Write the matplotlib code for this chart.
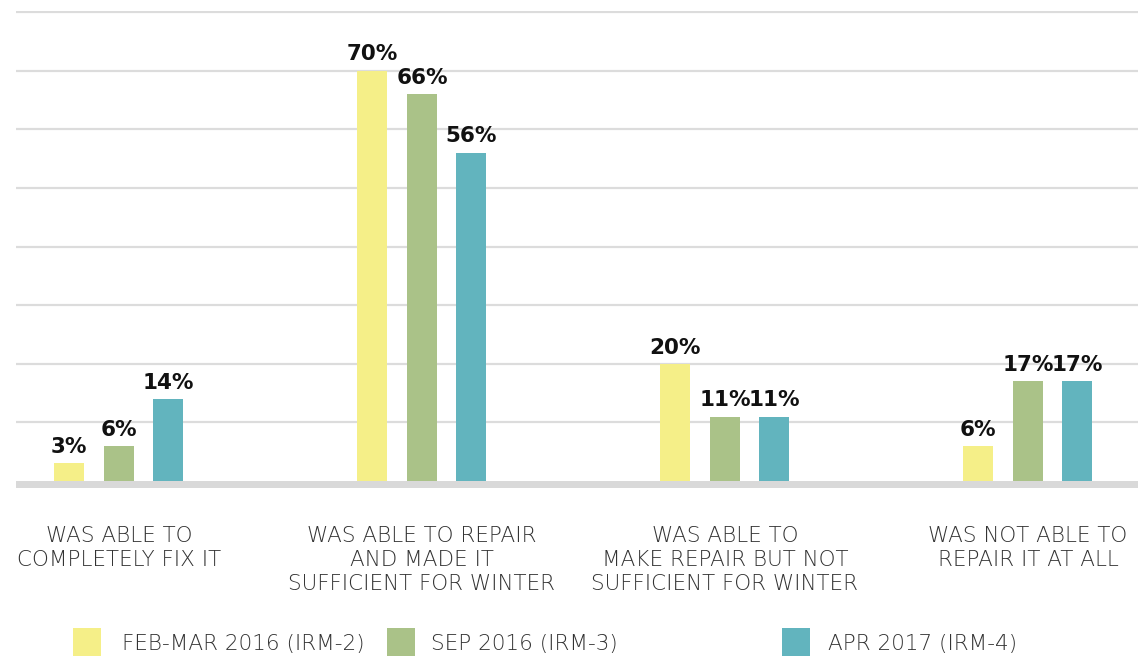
import matplotlib
matplotlib.use("Agg")
import matplotlib.pyplot as plt
from matplotlib.patches import Rectangle
import numpy as np

# ── data ────────────────────────────────────────────────────────────────────
categories = [
    "WAS ABLE TO\nCOMPLETELY FIX IT",
    "WAS ABLE TO REPAIR\nAND MADE IT\nSUFFICIENT FOR WINTER",
    "WAS ABLE TO\nMAKE REPAIR BUT NOT\nSUFFICIENT FOR WINTER",
    "WAS NOT ABLE TO\nREPAIR IT AT ALL",
]
series_names = ["FEB-MAR 2016 (IRM-2)", "SEP 2016 (IRM-3)", "APR 2017 (IRM-4)"]
irm2 = [3, 70, 20, 6]
irm3 = [6, 66, 11, 17]
irm4 = [14, 56, 11, 17]
values = [irm2, irm3, irm4]

colors = ["#F5EF88", "#AAC288", "#62B4BE"]
grid_col = "#DCDCDC"
text_col = "#333333"

plt.rcParams["font.family"] = ["DejaVu Sans"]

W, H = 1138, 656
fig = plt.figure(figsize=(W / 100, H / 100), dpi=100)

# axes placed in pixel terms: y=0 at px 481, y=80 at px 12
px_per = (481 - 12) / 80.0
ax_bot_px, ax_top_px = 488, 11
ax_left_px = 16
ax = fig.add_axes([ax_left_px / W, 1 - ax_bot_px / H,
                   1 - ax_left_px / W, (ax_bot_px - ax_top_px) / H])
ax.set_ylim(-(ax_bot_px - 481) / px_per, (481 - ax_top_px) / px_per)

grp_px = 303.0
first_px = 119.0
ax.set_xlim((ax_left_px - first_px) / grp_px, (W - first_px) / grp_px)

for y in range(10, 81, 10):
    ax.axhline(y, color=grid_col, lw=1.6, zorder=0)
ax.axhspan(ax.get_ylim()[0], 0, color="#D9D9D9", lw=0, zorder=1)

x = np.arange(len(categories))
bw = 30 / grp_px
offs = [-50 / grp_px, 0, 49 / grp_px]
for vals, col, off in zip(values, colors, offs):
    bars = ax.bar(x + off, vals, bw, color=col, zorder=2)
    for b, v in zip(bars, vals):
        ax.annotate(f"{v}%", (b.get_x() + b.get_width() / 2, v),
                    xytext=(0, 4.5), textcoords="offset points",
                    ha="center", va="bottom", fontsize=15.5,
                    fontweight="bold", color="#111111")

ax.set_xticks(x)
ax.set_xticklabels(categories, fontsize=15.5, color=text_col,
                   fontweight=200, linespacing=1.27)
ax.tick_params(axis="x", length=0, pad=27)
ax.set_yticks([])
for s in ax.spines.values():
    s.set_visible(False)

# ── legend drawn by hand ───────────────────────────────────────────────────
leg_sq = [73, 387, 782]
leg_tx = [122, 431, 828]
sq = 28
for name, col, sx, tx in zip(series_names, colors, leg_sq, leg_tx):
    fig.add_artist(Rectangle((sx / W, 1 - 656 / H), sq / W, sq / H,
                             transform=fig.transFigure, color=col, lw=0))
    fig.text(tx / W, 1 - 644 / H, name, fontsize=15.5, color=text_col,
             fontweight=200, va="center", ha="left")

fig.savefig("out.png", dpi=100)
